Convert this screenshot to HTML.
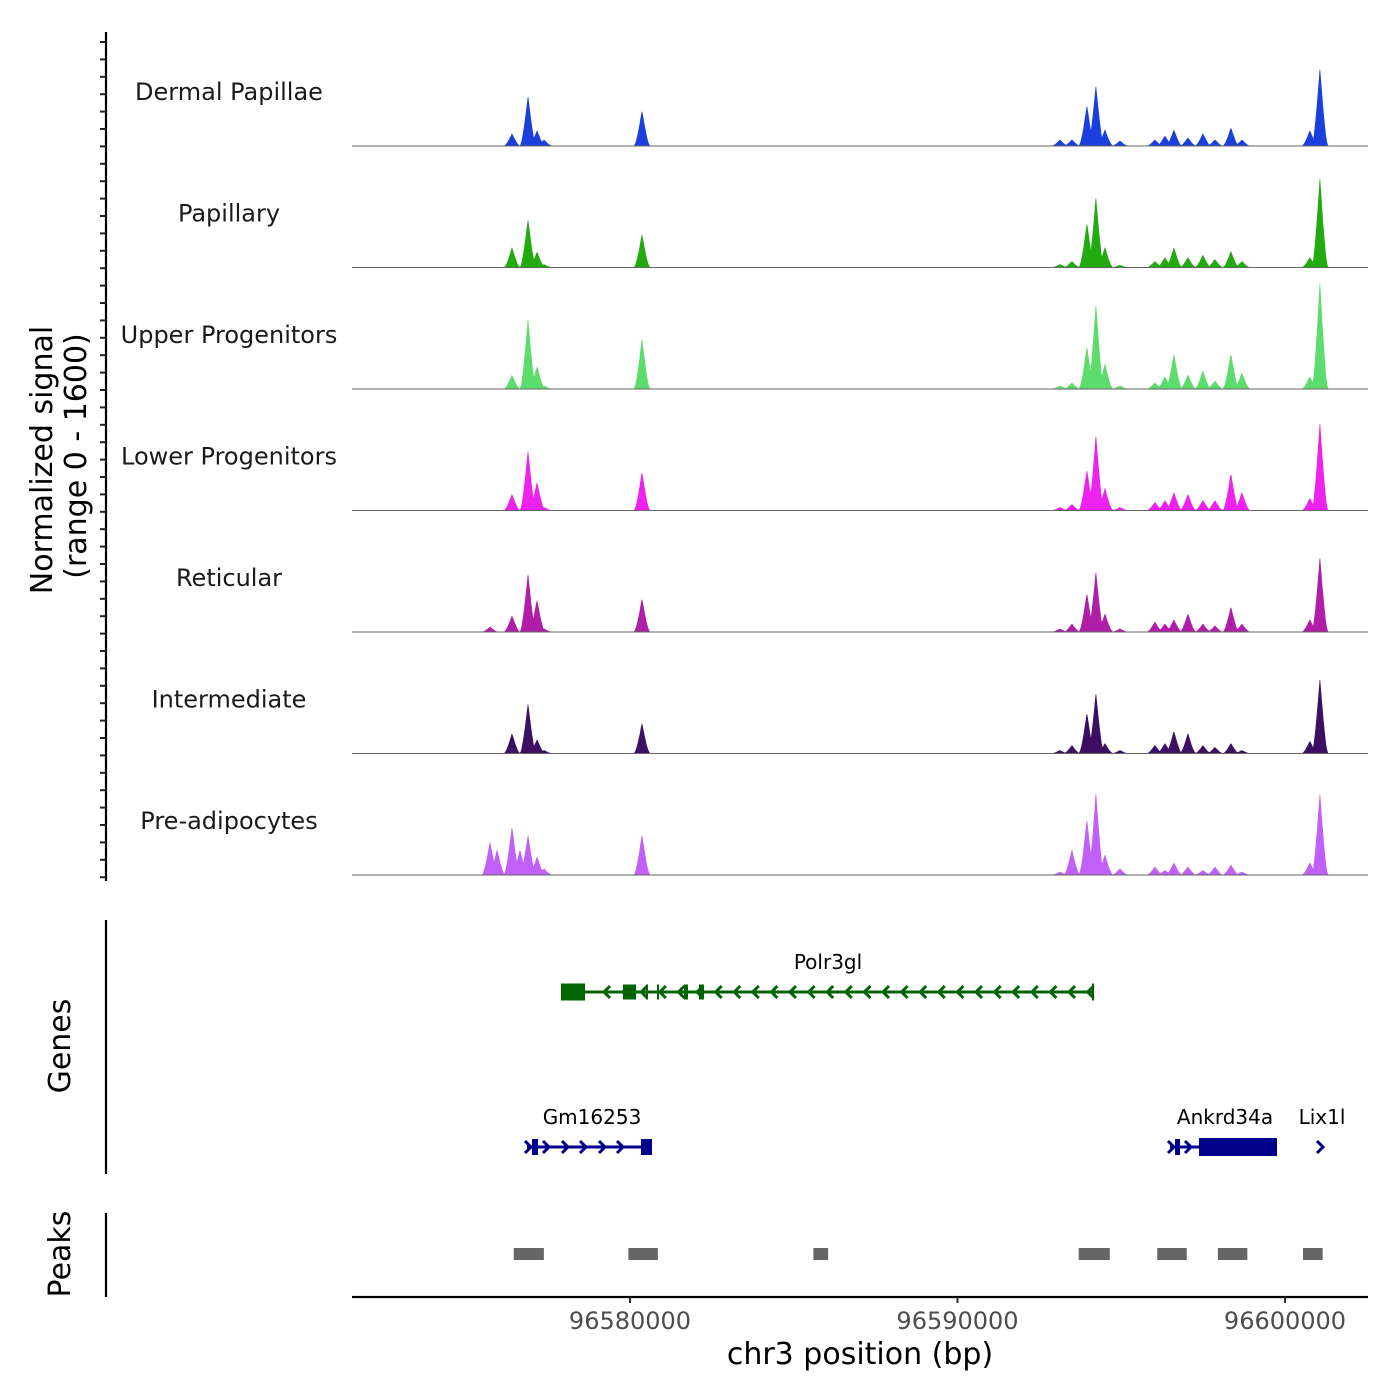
<!DOCTYPE html>
<html><head><meta charset="utf-8"><style>
html,body{margin:0;padding:0;background:#fff;}
svg{display:block;font-family:"DejaVu Sans","Liberation Sans",sans-serif;}
</style></head><body>
<svg id="chart" width="1400" height="1400" viewBox="0 0 1400 1400"></svg>
<script>
const trackNames=["Dermal Papillae","Papillary","Upper Progenitors","Lower Progenitors","Reticular","Intermediate","Pre-adipocytes"];
const trackColors=["#1a3fdc","#22aa10","#5cdc6c","#ee22ee","#b01ea8","#3d0f63","#c060f8"];
const peakPos=[96575726,96575940,96576397,96576640,96576886,96577161,96577374,96580366,96593128,96593494,96593952,96594227,96594502,96594960,96596028,96596334,96596608,96597036,96597494,96597860,96598349,96598684,96600760,96601066];
const sigDermal=[0,0,160,0,650,200,80,455,80,80,520,780,210,65,80,130,210,105,160,80,235,80,200,1010];
const sigPapillary=[0,0,260,0,625,200,40,430,40,80,570,910,260,30,80,130,260,130,160,105,210,80,130,1170];
const sigUpper=[0,0,180,0,910,290,40,650,40,80,545,1100,325,40,80,160,455,180,235,105,455,210,160,1390];
const sigLower=[0,0,210,0,780,365,40,495,40,80,520,975,290,40,105,130,235,210,130,130,480,235,160,1145];
const sigReticular=[65,0,210,0,755,415,40,430,40,105,495,780,235,40,130,105,160,235,105,80,325,105,160,975];
const sigIntermediate=[0,0,260,0,650,180,40,390,40,105,520,780,130,40,105,130,290,260,105,80,130,40,160,975];
const sigPreadipo=[430,325,625,325,520,235,80,520,40,325,715,1065,260,80,105,60,160,105,60,105,130,40,160,1065];
const signals=[sigDermal,sigPapillary,sigUpper,sigLower,sigReticular,sigIntermediate,sigPreadipo];
const xTicks=[96580000,96590000,96600000];
const peakStarts=[96576450,96579950,96585600,96593700,96596100,96597950,96600550];
const peakEnds=[96577370,96580850,96586050,96594650,96597000,96598850,96601150];

const NS="http://www.w3.org/2000/svg";
const svg=document.getElementById('chart');
function mk(tag,attrs,parent,text){const e=document.createElementNS(NS,tag);for(const k in attrs)e.setAttribute(k,attrs[k]);if(text!==undefined)e.textContent=text;(parent||svg).appendChild(e);return e;}
const BP0=96580000, PX0=630, PPB=327.5/10000;
const xs=bp=>PX0+(bp-BP0)*PPB;
const xMin=96571511, xMax=96602534;
const trackH=121.5, base0=146, vmax=1600;
const ys=(v,b)=>b-v/vmax*trackH;

signals.forEach((sig,t)=>{
  const base=base0+t*trackH;
  const g=mk('g',{});
  
  
  let d='M'+xs(xMin)+','+base;
  const hw=260;
  const smax=Math.max(...sig);
  for(let bp=xMin;bp<=xMax;bp+=12){
    let v=0;
    for(let i=0;i<peakPos.length;i++){const dd=Math.abs(bp-peakPos[i]);if(dd<hw){const r=1-dd/hw;const w=sig[i]*r*r*(1.6-0.6*r);if(w>v)v=w;}}
    d+=' L'+xs(bp).toFixed(1)+','+ys(Math.min(v,smax),base).toFixed(1);
  }
  d+=' L'+xs(xMax)+','+base+' Z';
  const p=mk('path',{d:d,fill:trackColors[t],stroke:trackColors[t],'stroke-width':0.6},g);
  
  
  const l=mk('line',{x1:352,x2:1368,y1:base,y2:base,stroke:'#666','stroke-width':1},g);
  
  
  const tx=mk('text',{x:229,y:base-46,'text-anchor':'middle','font-size':24,fill:'#1a1a1a'},g,trackNames[t]);
  
  
});

function vline(x,y1,y2,name){const l=mk('line',{x1:x,x2:x,y1:y1,y2:y2,stroke:'#000','stroke-width':2.2});}
vline(106,32,881,'signal-y-axis');
for(let y=42;y<880;y+=17.4){const t=mk('line',{x1:100,x2:106,y1:y,y2:y,stroke:'#222','stroke-width':2});}
vline(106,920,1174,'genes-axis');
vline(106,1213,1297,'peaks-axis');
let yt=mk('text',{x:0,y:0,'text-anchor':'middle','font-size':30,fill:'#000',transform:'translate(52,460) rotate(-90)'},svg,'Normalized signal');

yt=mk('text',{x:0,y:0,'text-anchor':'middle','font-size':30,fill:'#000',transform:'translate(86,456) rotate(-90)'},svg,'(range 0 - 1600)');

yt=mk('text',{x:0,y:0,'text-anchor':'middle','font-size':30,fill:'#000',transform:'translate(70,1046) rotate(-90)'},svg,'Genes');

yt=mk('text',{x:0,y:0,'text-anchor':'middle','font-size':30,fill:'#000',transform:'translate(70,1254) rotate(-90)'},svg,'Peaks');


function gene(name,color,x1,x2,y,boxes,arrows,dir,label,lx){
  const g=mk('g',{});
  
  
  if(x2>x1)mk('line',{x1:x1,x2:x2,y1:y,y2:y,stroke:color,'stroke-width':3},g);
  boxes.forEach(b=>mk('rect',{x:b[0],y:y-b[2]/2,width:b[1]-b[0],height:b[2],fill:color},g));
  arrows.forEach(ax=>{const s=dir>0?-1:1;mk('path',{d:`M${ax+s*5},${y-6} L${ax-s*1},${y} L${ax+s*5},${y+6}`,fill:'none',stroke:color,'stroke-width':3},g);});
  mk('text',{x:lx,y:y-23,'text-anchor':'middle','font-size':20,fill:'#000'},g,label);
}
const polArrows=[];for(let x=605;x<1090;x+=18.6)polArrows.push(x);
gene('Polr3gl','#006400',563,1093,992,[[561,585,17],[623,636,15],[646,648,15],[657,659,15],[684,688,15],[699,704,15],[1092,1094,17]],polArrows,-1,'Polr3gl',828);
gene('Gm16253','#00008b',527,652,1147,[[532,538,16],[641,652,16]],[530,548,567,585,604,622],1,'Gm16253',592);
gene('Ankrd34a','#00008b',1170,1277,1147,[[1175,1180,16],[1199,1277,18]],[1173,1190],1,'Ankrd34a',1225);
gene('Lix1l','#00008b',1321,1321,1147,[],[1322],1,'Lix1l',1322);

peakStarts.forEach((s,i)=>{const r=mk('rect',{x:xs(s),y:1248,width:xs(peakEnds[i])-xs(s),height:12,fill:'#666'});});

const ax=mk('line',{x1:352,x2:1368,y1:1297,y2:1297,stroke:'#000','stroke-width':2.2});

xTicks.forEach(v=>{
  const t=mk('line',{x1:xs(v),x2:xs(v),y1:1297,y2:1303,stroke:'#333','stroke-width':2});
  
  const l=mk('text',{x:xs(v),y:1329,'text-anchor':'middle','font-size':24,fill:'#4d4d4d'},svg,String(v));
  
});
const xt=mk('text',{x:860,y:1364,'text-anchor':'middle','font-size':30,fill:'#000'},svg,'chr3 position (bp)');

</script>
</body></html>
